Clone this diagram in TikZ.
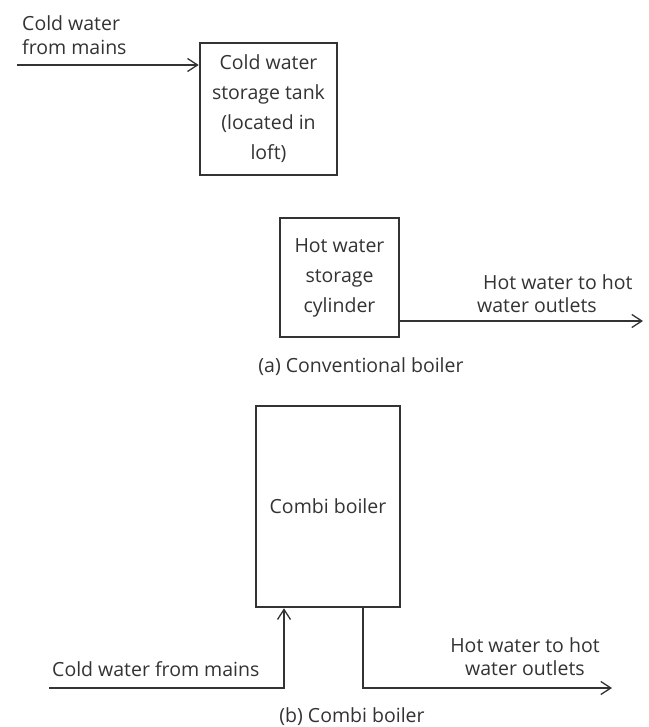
\documentclass[tikz,border=0pt]{standalone}
\usepackage{fontspec}
\setmainfont{Open Sans}
\usetikzlibrary{arrows.meta}
\definecolor{ink}{HTML}{333333}
\begin{document}
\begin{tikzpicture}[x=1pt,y=-1pt,
  box/.style={draw=ink,line width=2.6pt,inner sep=0pt,align=center,text=ink,
    font=\fontsize{19.5}{30}\selectfont},
  lbl/.style={inner sep=0pt,text=ink,font=\fontsize{19.5}{23.5}\selectfont},
  flow/.style={draw=ink,line width=1.3pt,-{Straight Barb[length=10pt,width=13pt,line width=1.3pt]}},
  pipe/.style={draw=ink,line width=1.3pt}]
\useasboundingbox (0,0) rectangle (648,727);
% (a) conventional
\node[box,minimum width=137pt,minimum height=132pt] (tank) at (268.5,109)
  {Cold water\\storage tank\\(located in\\loft)};
\node[lbl,anchor=west,align=left] (lin1) at (22,35) {Cold water\\from mains};
\coordinate (in1) at (17,65);
\draw[flow] (in1) -- (in1 -| tank.west);
\node[box,minimum width=119pt,minimum height=119pt] (cyl) at (339.5,277.5)
  {Hot water\\storage\\cylinder};
\coordinate (out1) at (643,321);
\draw[flow] (out1 -| cyl.east) -- (out1);
\node[lbl,anchor=west,align=left] (lout1) at (477,293.5) {\hspace*{6pt}Hot water to hot\\water outlets};
\node[lbl] (capa) at (361,367) {(a) Conventional boiler};
% (b) combi
\node[box,minimum width=144pt,minimum height=201pt] (combi) at (328,506.5) {Combi boiler};
\coordinate (cin) at (49,688);
\coordinate (cinup) at (284,688);
\draw[flow] (cin) -- (cinup) -- (cinup |- combi.south);
\node[lbl,anchor=west] (lin2) at (52,669) {Cold water from mains};
\coordinate (cout) at (363,688);
\coordinate (coutend) at (612,688);
\draw[flow] (cout |- combi.south) -- (cout) -- (coutend);
\node[lbl,align=center] (lout2) at (525,656.5) {Hot water to hot\\water outlets};
\node[lbl] (capb) at (352,717) {(b) Combi boiler};
\end{tikzpicture}
\end{document}
